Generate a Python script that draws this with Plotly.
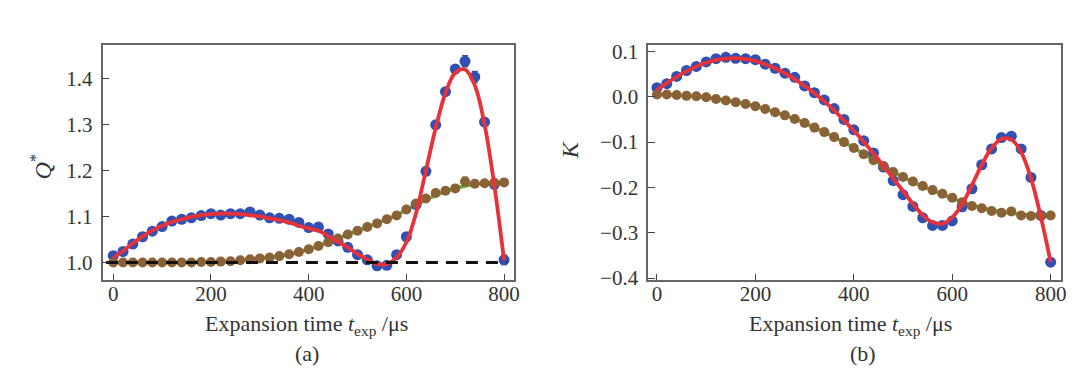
import plotly.graph_objects as go

# ---------------- data ----------------
t = [0, 20, 40, 60, 80, 100, 120, 140, 160, 180, 200, 220, 240, 260, 280, 300, 320, 340, 360, 380,
     400, 420, 440, 460, 480, 500, 520, 540, 560, 580, 600, 620, 640, 660, 680, 700, 720, 740, 760, 780, 800]

# panel (a): Q*
q_blue = [1.015, 1.024, 1.040, 1.056, 1.068, 1.078, 1.090, 1.094, 1.097, 1.102, 1.106, 1.103, 1.106, 1.106,
          1.110, 1.103, 1.097, 1.096, 1.094, 1.087, 1.076, 1.077, 1.062, 1.047, 1.033, 1.017, 1.006, 0.993,
          0.994, 1.017, 1.056, 1.126, 1.198, 1.299, 1.371, 1.420, 1.437, 1.403, 1.305, 1.170, 1.006]
q_blue_err = [0.004, 0.004, 0.005, 0.005, 0.004, 0.004, 0.006, 0.004, 0.004, 0.004, 0.004, 0.004, 0.004, 0.004,
              0.006, 0.004, 0.004, 0.004, 0.004, 0.004, 0.004, 0.008, 0.004, 0.004, 0.004, 0.004, 0.004, 0.004,
              0.004, 0.004, 0.004, 0.004, 0.004, 0.005, 0.005, 0.008, 0.012, 0.012, 0.006, 0.006, 0.010]
q_red = [1.010, 1.025, 1.042, 1.057, 1.070, 1.080, 1.088, 1.094, 1.099, 1.103, 1.105, 1.106, 1.106, 1.105,
         1.103, 1.100, 1.096, 1.092, 1.087, 1.080, 1.074, 1.069, 1.058, 1.045, 1.033, 1.019, 1.007, 0.997,
         0.997, 1.011, 1.044, 1.108, 1.200, 1.292, 1.368, 1.412, 1.419, 1.385, 1.300, 1.168, 1.005]
q_brown = [1.000, 1.000, 1.000, 1.000, 1.000, 1.000, 1.000, 1.000, 1.000, 1.001, 1.001, 1.002, 1.003, 1.005,
           1.007, 1.009, 1.011, 1.014, 1.018, 1.023, 1.029, 1.036, 1.044, 1.052, 1.061, 1.069, 1.077, 1.085,
           1.094, 1.102, 1.115, 1.128, 1.139, 1.151, 1.156, 1.161, 1.176, 1.171, 1.172, 1.173, 1.174]
q_brown_err = [0.003] * 36 + [0.009, 0.004, 0.003, 0.003, 0.003]
q_green = [1.000, 1.000, 1.000, 1.000, 1.000, 1.000, 1.000, 1.000, 1.000, 1.001, 1.001, 1.002, 1.003, 1.005,
           1.007, 1.009, 1.011, 1.014, 1.018, 1.023, 1.029, 1.036, 1.044, 1.052, 1.061, 1.069, 1.077, 1.086,
           1.094, 1.103, 1.114, 1.125, 1.136, 1.146, 1.154, 1.161, 1.166, 1.170, 1.172, 1.173, 1.174]
q_ref_x = [-15, 805]
q_ref_y = [1.0, 1.0]

# panel (b): K
k_blue = [0.020, 0.029, 0.045, 0.058, 0.067, 0.077, 0.084, 0.087, 0.085, 0.084, 0.082, 0.072, 0.063, 0.052,
          0.043, 0.024, 0.009, -0.007, -0.026, -0.050, -0.073, -0.097, -0.124, -0.155, -0.185, -0.216, -0.242,
          -0.267, -0.284, -0.284, -0.274, -0.243, -0.203, -0.150, -0.115, -0.090, -0.087, -0.115, -0.178,
          -0.262, -0.365]
k_red = [0.015, 0.030, 0.044, 0.056, 0.067, 0.075, 0.081, 0.084, 0.085, 0.083, 0.079, 0.072, 0.063, 0.052,
         0.039, 0.024, 0.008, -0.010, -0.030, -0.052, -0.075, -0.099, -0.125, -0.152, -0.180, -0.208, -0.236,
         -0.261, -0.277, -0.280, -0.266, -0.237, -0.195, -0.150, -0.113, -0.093, -0.094, -0.122, -0.180,
         -0.265, -0.365]
k_brown = [0.005, 0.005, 0.004, 0.002, 0.001, -0.001, -0.005, -0.008, -0.012, -0.016, -0.021, -0.027, -0.034,
           -0.041, -0.049, -0.058, -0.068, -0.078, -0.089, -0.100, -0.113, -0.127, -0.140, -0.153, -0.166,
           -0.177, -0.187, -0.197, -0.206, -0.214, -0.223, -0.233, -0.241, -0.246, -0.252, -0.256, -0.253,
           -0.262, -0.263, -0.263, -0.262]
k_green = [0.005, 0.005, 0.004, 0.002, 0.001, -0.001, -0.005, -0.008, -0.012, -0.016, -0.021, -0.027, -0.034,
           -0.041, -0.049, -0.058, -0.068, -0.078, -0.089, -0.100, -0.113, -0.126, -0.139, -0.152, -0.165,
           -0.177, -0.188, -0.198, -0.207, -0.216, -0.224, -0.232, -0.239, -0.245, -0.250, -0.254, -0.257,
           -0.259, -0.261, -0.262, -0.263]
k_err = [0.004] * 41

# ---------------- styles ----------------
BLUE = "#3050b2"
BROWN = "#8b6236"
RED = "#e8323a"
GREEN = "#5cb23a"
FONT = "Liberation Serif"
TXT = "#333333"

fig = go.Figure()


def add_panel(xa, ya, blue, blue_err, red, brown, brown_err, green, ref=None):
    fig.add_trace(go.Scatter(x=t, y=green, mode="lines", line=dict(color=GREEN, width=3.5, shape="spline"),
                             xaxis=xa, yaxis=ya, showlegend=False, hoverinfo="skip"))
    fig.add_trace(go.Scatter(x=t, y=blue, mode="markers",
                             marker=dict(color=BLUE, size=11, line=dict(width=0)),
                             error_y=dict(type="data", array=blue_err, color=BLUE, thickness=1.5, width=3),
                             xaxis=xa, yaxis=ya, showlegend=False))
    fig.add_trace(go.Scatter(x=t, y=brown, mode="markers",
                             marker=dict(color=BROWN, size=10, line=dict(width=0)),
                             error_y=dict(type="data", array=brown_err, color=BROWN, thickness=1.5, width=3),
                             xaxis=xa, yaxis=ya, showlegend=False))
    fig.add_trace(go.Scatter(x=t, y=red, mode="lines", line=dict(color=RED, width=3.8, shape="spline"),
                             xaxis=xa, yaxis=ya, showlegend=False, hoverinfo="skip"))
    if ref is not None:
        fig.add_trace(go.Scatter(x=ref[0], y=ref[1], mode="lines",
                                 line=dict(color="#111111", width=3, dash="12px,8px"),
                                 xaxis=xa, yaxis=ya, showlegend=False, hoverinfo="skip"))


add_panel("x", "y", q_blue, q_blue_err, q_red, q_brown, q_brown_err, q_green, ref=(q_ref_x, q_ref_y))
add_panel("x2", "y2", k_blue, k_err, k_red, k_brown, k_err, k_green)

axis_common = dict(showgrid=False, zeroline=False, showline=True, linecolor="#666666", linewidth=1.5,
                   mirror=True, ticks="inside", tickcolor="#444444", tickwidth=1.2,
                   tickfont=dict(family=FONT, size=21, color=TXT))

ydom = [0.2547, 0.9115]
fig.update_layout(
    width=1080, height=373,
    margin=dict(l=0, r=0, t=0, b=0),
    paper_bgcolor="white", plot_bgcolor="white",
    xaxis=dict(domain=[0.088, 0.471], range=[-22, 820], tickvals=[0, 200, 400, 600, 800], ticklen=6,
               anchor="y", ticklabelstandoff=-6, **axis_common),
    yaxis=dict(domain=ydom, range=[0.9625, 1.473], tickvals=[1.0, 1.1, 1.2, 1.3, 1.4], tickformat=".1f",
               ticklen=7, anchor="x", ticklabelstandoff=4, **axis_common),
    xaxis2=dict(domain=[0.596, 0.980], range=[-18, 820], tickvals=[0, 200, 400, 600, 800], ticklen=6,
                anchor="y2", ticklabelstandoff=-6, **axis_common),
    yaxis2=dict(domain=ydom, range=[-0.404, 0.115], tickvals=[0.1, 0.0, -0.1, -0.2, -0.3, -0.4],
                tickformat=".1f", ticklen=7, anchor="x2", ticklabelstandoff=4, **axis_common),
)

ann_font = dict(family=FONT, size=22, color=TXT)
annotations = [
    dict(text="Expansion time <i>t</i><sub>exp</sub> /μs", x=300, y=325),
    dict(text="(a)", x=301, y=355),
    dict(text="Expansion time <i>t</i><sub>exp</sub> /μs", x=847, y=325),
    dict(text="(b)", x=860, y=355),
]
for a in annotations:
    fig.add_annotation(text=a["text"], x=a["x"] / 1080, y=(373 - a["y"]) / 373, xref="paper", yref="paper",
                       showarrow=False, font=ann_font, xanchor="center", yanchor="middle")

fig.add_annotation(text="<i>Q</i><sup>*</sup>", x=33 / 1080, y=(373 - 160) / 373, xref="paper", yref="paper",
                   showarrow=False, font=dict(family=FONT, size=24, color=TXT), textangle=-90,
                   xanchor="center", yanchor="middle")
fig.add_annotation(text="<i>K</i>", x=565 / 1080, y=(373 - 142) / 373, xref="paper", yref="paper",
                   showarrow=False, font=dict(family=FONT, size=24, color=TXT), textangle=-90,
                   xanchor="center", yanchor="middle")

fig.write_html("out.html")
